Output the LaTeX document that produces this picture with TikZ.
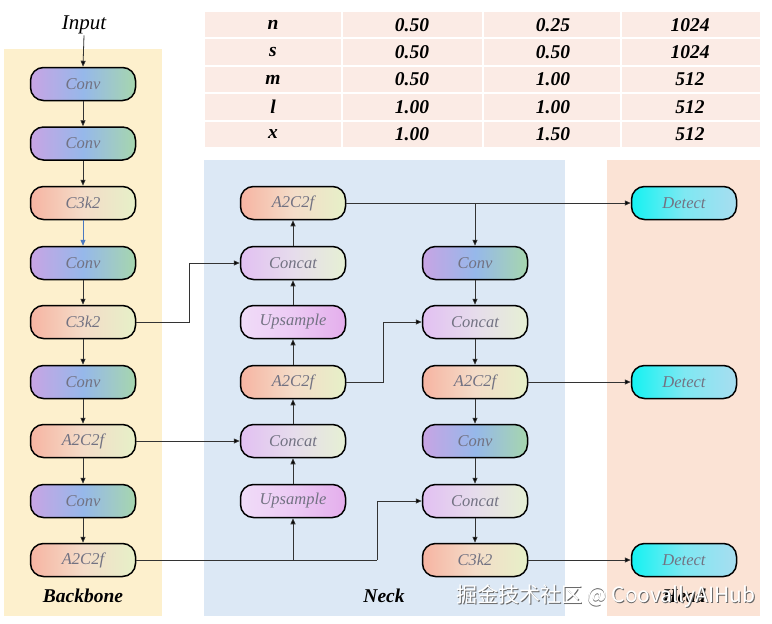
\documentclass[tikz,border=0pt]{standalone}
\usepackage{fontspec}
\setmainfont{Liberation Serif}
\newfontfamily\cjkfont{Noto Sans CJK SC}
\usetikzlibrary{arrows.meta}
\definecolor{bbpanel}{HTML}{FDF0CD}
\definecolor{neckpanel}{HTML}{DCE8F5}
\definecolor{headpanel}{HTML}{FBE3D5}
\definecolor{tabpink}{HTML}{FBEBE5}
\definecolor{cvL}{HTML}{C8A4E4}
\definecolor{cvM}{HTML}{96B8EA}
\definecolor{cvR}{HTML}{A6D6AE}
\definecolor{ckL}{HTML}{F6B4A2}
\definecolor{ckM}{HTML}{F4DCC8}
\definecolor{ckR}{HTML}{E6F0C8}
\definecolor{ccL}{HTML}{E2C0F2}
\definecolor{ccM}{HTML}{E6DCEC}
\definecolor{ccR}{HTML}{E6F0D4}
\definecolor{upL}{HTML}{F0DCF8}
\definecolor{upM}{HTML}{ECCAF4}
\definecolor{upR}{HTML}{E4AEEC}
\definecolor{dtL}{HTML}{14F2F2}
\definecolor{dtM}{HTML}{7EE8F2}
\definecolor{dtR}{HTML}{A8DDF0}
\definecolor{txtgray}{HTML}{727282}
\definecolor{linegray}{HTML}{333333}
\definecolor{bluearrow}{HTML}{4A78C0}
\begin{document}
\begin{tikzpicture}[x=1pt,y=-1pt,
  blk/.style={rectangle, rounded corners=13pt, minimum width=105pt, minimum height=33pt,
    draw=black, line width=1.5pt, font=\fontsize{16.5}{18}\selectfont\itshape, text=txtgray, inner sep=0pt},
  convbox/.style={blk, left color=cvL, right color=cvR, middle color=cvM},
  ckbox/.style={blk, left color=ckL, right color=ckR, middle color=ckM},
  catbox/.style={blk, left color=ccL, right color=ccR, middle color=ccM},
  upbox/.style={blk, left color=upL, right color=upR, middle color=upM},
  detbox/.style={blk, left color=dtL, right color=dtR, middle color=dtM},
  conn/.style={draw=linegray, line width=0.8pt, -{Triangle[length=6pt,width=5pt,fill=black]}},
  plain/.style={draw=linegray, line width=0.8pt},
  tabtxt/.style={font=\fontsize{19.5}{21}\selectfont\bfseries\itshape},
  lbl/.style={font=\fontsize{19.5}{21}\selectfont\bfseries\itshape}
]
\useasboundingbox (0,0) rectangle (772,624);
% panels
\fill[bbpanel] (4,49) rectangle (162,616);
\fill[neckpanel] (204,160) rectangle (565,616);
\fill[headpanel] (607,160) rectangle (760,616);
% table
\fill[tabpink] (205,12) rectangle (760,147);
\foreach \xx in {342,483,621} \draw[white, line width=1.5pt] (\xx,12) -- (\xx,147);
\foreach \yy in {38,66,93,121} \draw[white, line width=1.5pt] (205,\yy) -- (760,\yy);
\foreach \r/\yy/\a/\b/\c/\d in {1/25/n/0.50/0.25/1024, 2/52/s/0.50/0.50/1024, 3/79.5/m/0.50/1.00/512, 4/107/l/1.00/1.00/512, 5/134/x/1.00/1.50/512}{
  \node[tabtxt] (t\r a) at (273,\yy) {\a};
  \node[tabtxt] (t\r b) at (412,\yy) {\b};
  \node[tabtxt] (t\r c) at (553,\yy) {\c};
  \node[tabtxt] (t\r d) at (690,\yy) {\d};
}
% input
\node[font=\fontsize{21}{23}\selectfont\itshape, inner sep=1pt] (in) at (84,25) {Input};
% backbone
\node[convbox] (b1) at (83,84) {Conv};
\node[convbox] (b2) at (83,143.5) {Conv};
\node[ckbox]   (b3) at (83,203) {C3k2};
\node[convbox] (b4) at (83,263) {Conv};
\node[ckbox]   (b5) at (83,322) {C3k2};
\node[convbox] (b6) at (83,382) {Conv};
\node[ckbox]   (b7) at (83,441) {A2C2f};
\node[convbox] (b8) at (83,501) {Conv};
\node[ckbox]   (b9) at (83,560) {A2C2f};
% neck col 1
\node[ckbox]  (n1) at (293,203) {A2C2f};
\node[catbox] (n2) at (293,263) {Concat};
\node[upbox]  (n3) at (293,322) {Upsample};
\node[ckbox]  (n4) at (293,382) {A2C2f};
\node[catbox] (n5) at (293,441) {Concat};
\node[upbox]  (n6) at (293,501) {Upsample};
% neck col 2
\node[convbox] (m1) at (475,263) {Conv};
\node[catbox]  (m2) at (475,322) {Concat};
\node[ckbox]   (m3) at (475,382) {A2C2f};
\node[convbox] (m4) at (475,441) {Conv};
\node[catbox]  (m5) at (475,501) {Concat};
\node[ckbox]   (m6) at (475,560) {C3k2};
% head
\node[detbox] (h1) at (684,203) {Detect};
\node[detbox] (h2) at (684,382) {Detect};
\node[detbox] (h3) at (684,560) {Detect};
% labels
\node[lbl] (lb) at (83,596) {Backbone};
\node[lbl] (ln) at (384,596) {Neck};
\node[lbl] (lh) at (684,596) {Head};
% watermark
\node[font=\cjkfont\fontsize{21}{23}\selectfont, text=gray!80!black] (wm0) at (606.8,596.8) {掘金技术社区 @ CoovallyAIHub};
\node[font=\cjkfont\fontsize{21}{23}\selectfont, text=white] (wm) at (606,596) {掘金技术社区 @ CoovallyAIHub};
% junctions
\coordinate (j1) at (189,322);
\coordinate (j2) at (377,560);
\coordinate (j3) at (293,560);
\coordinate (j4) at (383,382);
\coordinate (j5) at (475,203);
% backbone arrows
\draw[conn] (in.south) -- (b1.north);
\draw[conn] (b1) -- (b2);
\draw[conn] (b2) -- (b3);
\draw[conn, draw=bluearrow, -{Triangle[length=6pt,width=5pt,fill=bluearrow]}] (b3) -- (b4);
\draw[conn] (b4) -- (b5);
\draw[conn] (b5) -- (b6);
\draw[conn] (b6) -- (b7);
\draw[conn] (b7) -- (b8);
\draw[conn] (b8) -- (b9);
% cross links
\draw[conn] (b5.east) -- (j1) |- (n2.west);
\draw[conn] (b7.east) -- (n5.west);
\draw[plain] (b9.east) -- (j2);
\draw[conn] (j2) |- (m5.west);
\draw[conn] (j3) -- (n6.south);
% neck col 1 upward
\draw[conn] (n6) -- (n5);
\draw[conn] (n5) -- (n4);
\draw[conn] (n4) -- (n3);
\draw[conn] (n3) -- (n2);
\draw[conn] (n2) -- (n1);
\draw[conn] (n4.east) -- (j4) |- (m2.west);
\draw[conn] (n1.east) -- (h1.west);
\draw[conn] (j5) -- (m1.north);
% neck col 2 downward
\draw[conn] (m1) -- (m2);
\draw[conn] (m2) -- (m3);
\draw[conn] (m3) -- (m4);
\draw[conn] (m4) -- (m5);
\draw[conn] (m5) -- (m6);
\draw[conn] (m3.east) -- (h2.west);
\draw[conn] (m6.east) -- (h3.west);
\end{tikzpicture}
\end{document}
